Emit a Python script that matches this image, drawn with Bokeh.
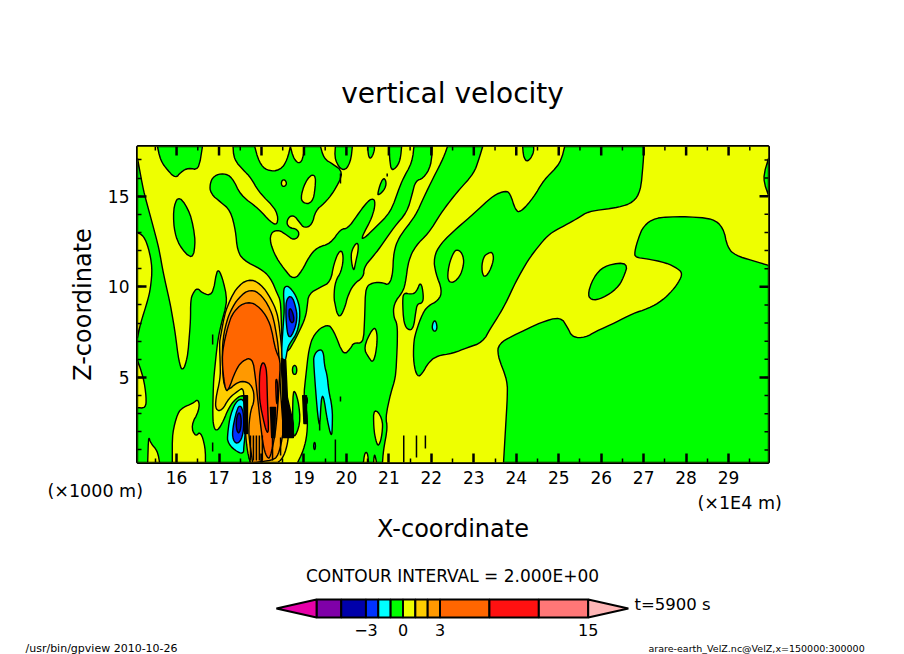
from math import hypot, pi
from bokeh.embed import file_html
from bokeh.layouts import column
from bokeh.models import FixedTicker, Label, Range1d
from bokeh.plotting import figure
from bokeh.resources import INLINE

# ---- values (x in 1E4 m, z in 1000 m) ----
title_text = "vertical velocity"
x_ticks = list(range(16, 30))
x_minor = [v + 0.5 for v in range(15, 30)]
y_ticks = [5, 10, 15]
y_minor = list(range(1, 18))
levels = [-7, -5, -3, -2, -1, 0, 1, 2, 3, 7, 11, 15]
bar_labels = [-3, 0, 3, 15]

YELLOW, GREEN, CYAN, BLUE, NAVY = "#EEFF00", "#00FF00", "#00FFFF", "#0033FF", "#0000AA"
GOLD, ORANGE, DEEP, RED = "#FFCC00", "#FF9900", "#FF6600", "#FF1111"
bar_colors = ["#7F00A8", NAVY, BLUE, CYAN, GREEN, YELLOW, GOLD, ORANGE, DEEP, RED, "#FF7777"]

green_left_x = [15.08,15.22,15.43,15.58,15.69,15.86,15.97,16.05,16.14,16.26,16.33,16.33,16.38,16.49,16.61,16.85,16.96,17.08,17.20,17.03,16.96,16.87,16.85,16.87,16.96,17.11,17.22,17.39,17.58,17.67,17.69,17.69,17.74,15.08]
green_left_y = [17.08,15.31,13.49,12.17,10.73,8.96,7.42,5.94,5.27,6.10,8.14,9.24,9.63,9.96,9.63,9.52,11.07,10.52,9.24,7.76,6.87,4.83,3.01,2.24,2.02,2.63,3.29,3.84,4.06,3.73,2.08,0.70,0.31,0.31]
green_arm_x = [17.33,17.84,17.94,18.13,18.45,18.61,18.68,18.76,18.92,19.0,19.01,19.39,19.47,19.67,19.94,19.70,19.47,19.27,19.19,19.0,18.92,18.74,18.58,18.64,18.84,18.90,18.76,18.61,18.37,18.17,18.29,18.53,18.76,18.96,19.11,19.31,19.63,19.86,20.03,20.25,20.45,20.61,20.69,20.61,20.35,20.41,20.69,21.04,21.31,21.55,21.59,22.02,22.0,21.81,21.63,21.55,21.43,21.12,20.80,20.61,20.41,20.41,20.17,20.02,19.98,19.86,19.78,19.74,19.70,19.74,19.88,19.94,19.85,19.70,19.63,19.39,19.11,19.08,19.04,18.90,18.76,18.62,18.49,18.45,18.37,18.21,17.98,17.58,17.43,17.39,17.27,17.04,16.80,16.78,16.88,17.11,17.31,17.51,17.94,18.21,18.39,18.37,17.94,17.74,17.58,17.35]
green_arm_y = [17.74,17.74,16.87,16.38,16.42,17.02,17.74,17.02,16.75,17.34,17.74,17.74,17.06,16.79,16.32,15.22,14.58,14.21,13.38,13.25,13.48,14.03,13.66,13.25,13.20,12.83,12.56,12.83,13.20,12.83,11.82,10.99,10.35,10.90,11.63,12.19,12.37,13.20,13.20,13.93,14.58,14.91,14.67,13.84,12.70,12.65,13.29,14.12,15.87,16.87,17.74,17.74,16.69,15.96,15.87,15.13,14.12,13.29,12.19,11.63,11.08,10.53,10.17,9.43,8.97,8.32,8.51,8.97,9.43,10.35,10.81,11.73,12.10,11.27,10.26,9.98,9.62,8.97,8.33,7.59,6.95,6.39,6.49,9.24,9.62,10.53,10.99,11.45,12.0,13.11,14.21,14.67,15.13,15.68,16.14,16.27,16.05,15.04,14.30,13.57,13.38,14.21,15.22,16.05,16.42,17.02]
green_mid_x = [18.85,18.99,19.08,19.08,18.99,19.04,19.11,19.23,19.55,19.70,19.93,20.10,20.17,20.40,20.43,20.45,20.61,20.87,20.99,21.09,21.11,21.23,21.63,21.82,22.05,22.29,22.38,23.21,23.11,23.0,22.64,22.45,22.22,21.93,21.63,21.46,21.39,21.32,21.11,21.11,21.20,21.20,21.16,21.04,20.92,20.97,20.87,20.85]
green_mid_y = [0.31,0.97,1.91,3.01,3.90,5.0,6.49,7.42,7.98,7.59,6.21,6.60,6.93,6.87,8.31,9.96,10.24,10.24,10.07,10.63,11.89,12.72,13.93,14.93,16.03,17.13,17.74,17.74,16.97,16.25,15.31,14.76,14.04,12.94,12.28,11.45,10.18,9.69,9.08,8.31,7.98,6.87,5.0,4.12,2.79,2.24,0.97,0.31]
green_top_x = [25.14,27.0,27.0,26.93,26.76,26.41,25.70,25.47,25.23,24.92,24.74,24.50,24.27,23.98,23.75,23.56,23.39,23.21,22.85,22.50,22.14,21.93,21.79,21.67,21.58,21.58,21.63,21.79,21.93,22.17,22.26,22.10,22.05,22.22,22.62,23.0,23.46,23.75,23.86,23.98,24.10,24.41,24.64,25.04]
green_top_y = [17.74,17.74,17.13,15.31,14.65,14.38,14.16,13.82,13.49,13.11,12.83,12.17,11.45,10.24,9.08,8.31,7.70,6.93,6.65,6.32,6.21,5.83,5.22,5.0,5.77,6.87,7.48,8.53,8.97,9.24,9.80,10.74,11.62,12.39,13.27,14.04,15.04,15.31,15.15,14.21,14.10,14.93,15.87,16.80]
green_right_x = [23.70,23.79,23.79,23.56,23.58,23.94,24.57,25.04,25.21,25.32,25.63,25.87,26.34,26.74,27.11,27.44,27.68,27.82,27.92,27.80,27.52,27.04,26.81,26.78,26.88,27.0,27.28,27.92,28.62,28.88,28.97,29.16,29.56,29.94,29.94]
green_right_y = [0.31,3.90,4.83,6.21,6.87,7.32,8.03,8.36,7.76,7.20,7.20,7.54,8.03,8.53,8.80,9.24,9.80,10.24,10.74,11.01,11.34,11.56,11.62,11.89,12.72,13.38,13.82,13.88,13.77,13.27,12.17,11.73,11.45,11.18,0.31]
green_tooth1_x = [15.55,15.62,15.79,15.98,16.09,16.28,16.52,16.61]
green_tooth1_y = [17.74,16.97,16.42,15.98,16.31,16.58,16.42,17.74]
green_leaf1_x = [16.07,15.93,15.93,16.05,16.38,16.45,16.33]
green_leaf1_y = [15.04,14.49,13.27,12.28,11.45,12.56,14.04]
green_tooth2_x = [19.74,19.72,19.93,20.10,20.14]
green_tooth2_y = [17.74,16.97,16.31,16.86,17.74]
green_tooth3_x = [20.50,20.52,20.59,20.66,20.66]
green_tooth3_y = [17.74,17.13,17.08,17.52,17.74]
green_tooth4_x = [21.0,21.04,21.16,21.27,21.30]
green_tooth4_y = [17.74,16.42,16.53,16.97,17.74]
green_tooth5_x = [24.15,24.17,24.27,24.41,24.41]
green_tooth5_y = [17.74,17.13,16.86,17.36,17.74]
green_leaf2_x = [20.73,20.85,20.94,20.92,20.76]
green_leaf2_y = [15.15,16.03,15.87,15.42,15.04]
green_isle_x = [21.35,21.51,21.65,21.75,21.82,21.79,21.67,21.63,21.58,21.46,21.35,21.32]
green_isle_y = [9.69,9.58,9.69,10.35,9.52,9.08,9.08,8.59,7.70,7.59,7.98,9.24]
green_leaf3_x = [25.75,25.68,25.87,26.15,26.64,26.53,26.38,26.03]
green_leaf3_y = [9.24,9.69,10.74,11.23,11.34,10.52,9.91,9.36]
green_edge_x = [29.94,29.80,29.94]
green_edge_y = [17.08,15.98,15.04]
green_lens_x = [18.75,18.87,18.92,18.75,18.73]
green_lens_y = [4.45,3.73,2.46,1.52,3.01]
green_slice_x = [18.73,18.83,18.83,18.73]
green_slice_y = [5.66,5.66,5.17,5.17]

yellow_a_x = [15.08,15.22,15.34,15.43,15.39,15.32,15.15,15.08]
yellow_a_y = [12.99,12.83,12.17,11.07,9.96,9.24,7.98,7.20]
yellow_b_x = [15.08,15.22,15.29,15.27,15.08]
yellow_b_y = [5.94,5.0,3.90,3.29,3.34]
yellow_c_x = [15.34,15.39,15.55,15.60,15.32]
yellow_c_y = [1.80,1.36,0.97,0.31,0.31]
yellow_d_x = [15.90,15.90,16.02,16.14,16.38,16.52,16.54,16.33,16.45,16.56,16.68,16.68]
yellow_d_y = [0.31,1.91,3.01,3.34,3.56,3.84,3.18,2.35,1.69,2.08,1.14,0.31]
yellow_e_x = [18.52,18.61,18.52,18.45]
yellow_e_y = [15.98,15.70,15.48,15.70]
yellow_f_x = [19.08,19.27,19.27,19.20,18.97,18.92]
yellow_f_y = [16.03,16.25,15.48,14.60,14.60,15.04]
yellow_g_x = [20.10,20.14,20.26,20.29,20.21,20.17]
yellow_g_y = [11.62,12.11,12.50,12.11,11.29,10.79]
yellow_h_x = [22.62,22.76,22.76,22.62,22.40,22.38,22.50]
yellow_h_y = [12.11,11.73,11.07,10.35,10.18,10.90,11.84]
yellow_i_x = [23.46,23.46,23.28,23.18,23.21,23.35]
yellow_i_y = [11.89,11.29,10.46,10.79,11.62,11.89]
yellow_j_x = [20.40,20.61,20.71,20.73,20.64,20.52]
yellow_j_y = [6.65,7.70,7.70,6.87,5.77,6.10]
yellow_k_x = [20.64,20.85,20.85,20.76,20.69,20.64]
yellow_k_y = [3.34,2.79,1.91,1.14,1.52,2.24]
yellow_l_x = [20.40,20.43,20.50,20.52]
yellow_l_y = [0.31,0.86,0.86,0.31]
yellow_m_x = [20.64,20.66,20.71]
yellow_m_y = [0.31,0.86,0.31]

cyan_mid_x = [19.34,19.46,19.48,19.55,19.58,19.67,19.67,19.65,19.55,19.46,19.41,19.37,19.32,19.27,19.23,19.23]
cyan_mid_y = [6.54,6.49,5.66,5.11,4.28,3.34,2.35,1.63,2.63,4.0,3.90,2.19,3.01,4.45,5.77,6.21]
cyan_dot_x = [22.08,22.15,22.08,22.0]
cyan_dot_y = [8.25,7.76,7.48,7.76]
cyan_bit1_x = [19.23,19.27,19.27,19.23]
cyan_bit1_y = [1.41,1.41,1.03,1.03]
cyan_bit2_x = [19.04,19.08,19.08,19.04]
cyan_bit2_y = [3.90,3.90,3.56,3.56]
cyan_top_x = [18.51,18.57,18.68,18.85,18.92,18.85,18.68,18.61,18.57,18.50,18.47,18.52,18.54]
cyan_top_y = [9.80,10.07,9.96,9.36,8.53,7.48,6.93,6.60,5.94,5.66,6.49,8.14,8.86]
blue_top_x = [18.59,18.71,18.80,18.85,18.75,18.64,18.59,18.57]
blue_top_y = [9.36,9.52,8.97,8.25,7.43,7.15,7.76,8.69]
navy_top_x = [18.64,18.73,18.78,18.66]
navy_top_y = [8.86,8.69,8.03,8.03]
cyan_low_x = [17.44,17.27,17.20,17.20,17.44,17.58,17.58,17.62,17.62]
cyan_low_y = [3.84,3.01,1.91,1.36,0.86,0.81,1.14,1.91,3.73]
blue_low_x = [17.46,17.32,17.32,17.46,17.58,17.58]
blue_low_y = [3.56,2.24,1.52,1.30,1.91,3.18]
navy_low_x = [17.44,17.39,17.46,17.53,17.51]
navy_low_y = [3.07,2.35,1.80,2.35,3.01]

gold_x = [17.15,17.39,17.69,17.98,18.21,18.38,18.45,18.50,18.45,18.57,18.64,18.61,18.50,18.38,17.74,17.67,17.62,17.58,17.46,17.22,17.08,16.92,16.92,17.03,17.03,17.01,17.03]
gold_y = [8.69,9.91,10.46,10.18,9.41,8.53,7.21,5.94,5.66,3.84,1.97,1.25,0.53,0.31,0.31,0.86,1.97,4.45,4.28,3.84,3.18,3.18,3.84,4.94,5.66,6.87,7.20]
orange_x = [17.27,17.46,17.74,18.02,18.26,18.38,18.42,18.45,18.52,18.40,18.26,17.79,17.69,17.74,17.84,17.79,17.58,17.39,17.22,17.11,17.08,17.08,17.15]
orange_y = [8.69,9.41,9.91,9.52,8.53,7.04,5.94,4.17,1.97,0.70,0.42,0.31,1.97,3.18,3.73,4.56,4.83,4.67,4.28,4.56,5.66,6.87,7.87]
deep_x = [17.20,17.34,17.67,17.98,18.21,18.33,18.45,18.38,18.33,18.21,18.14,18.05,17.98,17.91,17.86,17.79,17.55,17.39,17.22,17.15,17.08,17.08]
deep_y = [7.76,8.69,9.24,8.86,7.98,6.49,5.94,3.29,1.97,0.59,0.53,1.08,2.35,3.84,4.94,6.10,5.94,5.39,4.28,4.28,5.55,6.49]
red_a_x = [18.02,18.12,18.14,18.17,18.10,17.95,17.95]
red_a_y = [5.94,5.55,3.73,1.91,2.08,3.73,5.22]
red_b_x = [18.33,18.38,18.38,18.35]
red_b_y = [4.94,4.83,3.56,3.56]

# places where the contour lines are so close that they merge into black
tight_a_x = [17.58,17.67,17.67,17.60]
tight_a_y = [3.99,3.99,1.91,1.91]
tight_b_x = [18.47,18.57,18.61,18.75,18.75,18.50,18.50]
tight_b_y = [6.05,5.94,3.90,2.46,1.69,1.69,3.73]
tight_c_x = [18.21,18.33,18.31,18.24]
tight_c_y = [3.34,3.34,1.69,1.69]
tight_d_x = [18.97,19.06,19.06,19.0]
tight_d_y = [4.0,4.0,2.46,2.46]

# very narrow contours, each a position with its lower and upper end
short_x = [21.35,21.65,21.86,16.85,16.85,19.74,19.37,19.86,20.96,19.86,17.74,17.81,17.88,17.95,18.02,18.26,18.45]
short_lo = [0.31,0.59,1.08,0.92,6.82,0.31,2.08,3.67,16.08,15.70,0.42,0.42,0.42,0.42,0.42,0.42,0.70]
short_hi = [1.80,1.80,1.80,1.41,7.37,1.58,2.46,3.95,16.25,16.25,1.80,1.80,1.80,1.80,1.80,1.80,1.69]

# ---- page ----
W, H_MAIN, H_BAR = 904, 545, 109
FONT = "DejaVu Sans"
X0, X1, Y0, Y1 = 15.08, 29.94, 0.31, 17.74
PX, PY = 631 / (X1 - X0), 316 / (Y1 - Y0)

def round_corners(xs, ys, passes=2):
    """Round the corners of a traced outline, leaving points on the plot's edge alone."""
    for _ in range(passes):
        out_x, out_y = [], []
        n = len(xs)
        for i in range(n):
            x, y = xs[i], ys[i]
            if x in (X0, X1) or y in (Y0, Y1):
                out_x.append(x); out_y.append(y)
                continue
            for j in (i - 1, (i + 1) % n):
                dx, dy = xs[j] - x, ys[j] - y
                length = hypot(dx * PX, dy * PY) or 1
                t = min(0.28, 5 / length)
                out_x.append(x + t * dx); out_y.append(y + t * dy)
        xs, ys = out_x, out_y
    return xs, ys

p = figure(width=W, height=H_MAIN, output_backend="svg", toolbar_location=None,
           x_range=Range1d(X0, X1), y_range=Range1d(Y0, Y1),
           min_border_left=137, min_border_right=136, min_border_top=146, min_border_bottom=83,
           background_fill_color="white", border_fill_color="white",
           outline_line_color="black", outline_line_width=3)
p.grid.visible = False

def style(axis, ticks, minor, title, standoff):
    axis.ticker = FixedTicker(ticks=ticks, minor_ticks=minor)
    axis.axis_line_color = None
    axis.major_tick_in, axis.major_tick_out = 9, 0
    axis.minor_tick_in, axis.minor_tick_out = 4, 0
    axis.major_tick_line_width, axis.minor_tick_line_width = 2.5, 1.5
    axis.major_tick_line_color = axis.minor_tick_line_color = "black"
    axis.major_label_text_font = FONT
    axis.major_label_text_font_size = "17px"
    axis.major_label_text_color = "black"
    axis.major_label_standoff = 8
    axis.axis_label = title
    axis.axis_label_text_font = FONT
    axis.axis_label_text_font_style = "normal"
    axis.axis_label_text_font_size = "24px"
    axis.axis_label_text_color = "black"
    axis.axis_label_standoff = standoff

style(p.xaxis[0], x_ticks, x_minor, "X-coordinate", 28)
style(p.yaxis[0], y_ticks, y_minor, "Z-coordinate", 8)

p.quad(left=[X0], right=[X1], bottom=[Y0], top=[Y1], fill_color=YELLOW, line_color=None)

layers = [
    (GREEN, [(green_left_x, green_left_y), (green_arm_x, green_arm_y), (green_mid_x, green_mid_y),
             (green_top_x, green_top_y), (green_right_x, green_right_y), (green_tooth1_x, green_tooth1_y),
             (green_leaf1_x, green_leaf1_y), (green_tooth2_x, green_tooth2_y), (green_tooth3_x, green_tooth3_y),
             (green_tooth4_x, green_tooth4_y), (green_tooth5_x, green_tooth5_y), (green_leaf2_x, green_leaf2_y),
             (green_isle_x, green_isle_y), (green_leaf3_x, green_leaf3_y), (green_edge_x, green_edge_y)]),
    (YELLOW, [(yellow_a_x, yellow_a_y), (yellow_b_x, yellow_b_y), (yellow_c_x, yellow_c_y), (yellow_d_x, yellow_d_y),
              (yellow_e_x, yellow_e_y), (yellow_f_x, yellow_f_y), (yellow_g_x, yellow_g_y), (yellow_h_x, yellow_h_y),
              (yellow_i_x, yellow_i_y), (yellow_j_x, yellow_j_y), (yellow_k_x, yellow_k_y), (yellow_l_x, yellow_l_y),
              (yellow_m_x, yellow_m_y)]),
    (GOLD, [(gold_x, gold_y)]),
    (ORANGE, [(orange_x, orange_y)]),
    (DEEP, [(deep_x, deep_y)]),
    (RED, [(red_a_x, red_a_y), (red_b_x, red_b_y)]),
    (GREEN, [(green_lens_x, green_lens_y), (green_slice_x, green_slice_y)]),
    (CYAN, [(cyan_mid_x, cyan_mid_y), (cyan_dot_x, cyan_dot_y), (cyan_bit1_x, cyan_bit1_y), (cyan_bit2_x, cyan_bit2_y),
            (cyan_top_x, cyan_top_y), (cyan_low_x, cyan_low_y)]),
    (BLUE, [(blue_top_x, blue_top_y), (blue_low_x, blue_low_y)]),
    (NAVY, [(navy_top_x, navy_top_y), (navy_low_x, navy_low_y)]),
    ("black", [(tight_a_x, tight_a_y), (tight_b_x, tight_b_y), (tight_c_x, tight_c_y), (tight_d_x, tight_d_y)]),
]
for color, shapes in layers:
    passes = 0 if color == "black" else 2
    smooth = [round_corners(list(s[0]), list(s[1]), passes) for s in shapes]
    p.patches(xs=[s[0] for s in smooth], ys=[s[1] for s in smooth],
              fill_color=color, line_color="black", line_width=1.4, line_join="round")
p.segment(x0=short_x, x1=short_x, y0=short_lo, y1=short_hi, line_color="black", line_width=1.5)

# tick marks on the top and right sides, at the same tick values as the axes
p.segment(x0=x_ticks, x1=x_ticks, y0=[Y1] * len(x_ticks), y1=[Y1 - 9 / PY] * len(x_ticks), line_color="black", line_width=2.5)
p.segment(x0=x_minor, x1=x_minor, y0=[Y1] * len(x_minor), y1=[Y1 - 4 / PY] * len(x_minor), line_color="black", line_width=1.5)
p.segment(x0=[X1] * len(y_ticks), x1=[X1 - 9 / PX] * len(y_ticks), y0=y_ticks, y1=y_ticks, line_color="black", line_width=2.5)
p.segment(x0=[X1] * len(y_minor), x1=[X1 - 4 / PX] * len(y_minor), y0=y_minor, y1=y_minor, line_color="black", line_width=1.5)

def label(fig, side, panel_bottom, X, Y, text, size, align="left"):
    # a label kept in a side panel is not clipped to the frame; its y counts up from that panel's bottom
    fig.add_layout(Label(x=X - 137, y=panel_bottom - Y, x_units="screen", y_units="screen", text=text,
                         text_font=FONT, text_font_size=f"{size}px", text_color="black",
                         text_align=align, text_baseline="middle"), side)

label(p, "above", 146, 452, 93, title_text, 28, "center")
label(p, "above", 113, 47, 490, "(×1000 m)", 17.5)
label(p, "above", 93, 697, 502, "(×1E4 m)", 17.5)

cb = figure(width=W, height=H_BAR, output_backend="svg", toolbar_location=None,
            x_range=Range1d(-21.5, 29.6), y_range=Range1d(-0.11, 1.11),
            min_border_left=137, min_border_right=136, min_border_top=52, min_border_bottom=35,
            outline_line_color=None, background_fill_color=None, border_fill_color="white")
cb.grid.visible = False
cb.yaxis.visible = False
cb.quad(left=levels[:-1], right=levels[1:], bottom=0, top=1, fill_color=bar_colors, line_color="black", line_width=2)
cb.patches(xs=[[-10.25, levels[0], levels[0]], [levels[-1], levels[-1], 18.25]], ys=[[0.5, 1, 0], [0, 1, 0.5]],
           fill_color=["#E600A8", "#FFB6B6"], line_color="black", line_width=2)
ax = cb.xaxis[0]
ax.ticker = FixedTicker(ticks=bar_labels)
ax.axis_line_color = None
ax.major_tick_in = ax.major_tick_out = ax.minor_tick_in = ax.minor_tick_out = 0
ax.major_label_text_font = FONT
ax.major_label_text_font_size = "16px"
ax.major_label_text_color = "black"
ax.major_label_standoff = 4
label(cb, "above", 597, 634, 604, "t=5900 s", 16.5)
label(cb, "above", 577, 452, 574, "CONTOUR INTERVAL = 2.000E+00", 17, "center")
label(cb, "above", 557, 648, 647, "arare-earth_VelZ.nc@VelZ,x=150000:300000", 9.5)
label(cb, "below", 654, 25, 651, "/usr/bin/gpview   2010-10-26", 11)

page = column(p, cb, spacing=0)
open("out.html", "w").write(file_html(page, INLINE))
